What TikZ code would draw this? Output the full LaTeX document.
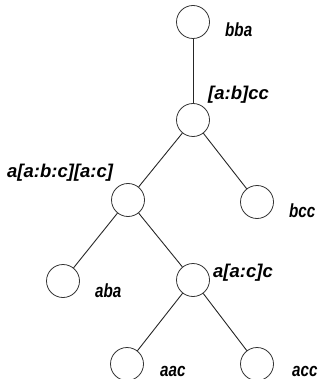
\documentclass[tikz,border=0pt]{standalone}
\usepackage{fontspec}
\setmainfont{Liberation Sans}
\newfontfamily\narrowlab[FakeStretch=0.8]{Liberation Sans}
\begin{document}
\begin{tikzpicture}[x=1pt,y=-1pt,
  vert/.style={circle,draw=black!80,line width=0.8pt,minimum size=33pt,inner sep=0pt},
  lab/.style={font=\fontsize{18.5}{18.5}\selectfont\bfseries\itshape,inner sep=0pt,anchor=base west},
  nlab/.style={font=\narrowlab\fontsize{19}{19}\selectfont\bfseries\itshape,inner sep=0pt,anchor=base west},
  edge/.style={draw=black!85,line width=0.9pt}]
\useasboundingbox (0,0) rectangle (322,379);
\node[vert] (r) at (193,22) {};
\node[vert] (n2) at (193,120) {};
\node[vert] (n3) at (128,200) {};
\node[vert] (bcc) at (257,202) {};
\node[vert] (aba) at (63,281) {};
\node[vert] (n5) at (193,280) {};
\node[vert] (aac) at (127,364) {};
\node[vert] (acc) at (257,364) {};
\node[nlab] (t1) at (225,37) {bba};
\node[lab] (t2) at (208,100) {[a:b]cc};
\node[lab] (t3) at (7,178) {a[a:b:c][a:c]};
\node[nlab] (t4) at (289,217) {bcc};
\node[nlab] (t5) at (95,297) {aba};
\node[lab] (t6) at (213,277) {a[a:c]c};
\node[nlab] (t7) at (160,376) {aac};
\node[nlab] (t8) at (292,376) {acc};
\draw[edge] (r) -- (n2);
\draw[edge] (n2) -- (n3);
\draw[edge] (n2) -- (bcc);
\draw[edge] (n3) -- (aba);
\draw[edge] (n3) -- (n5);
\draw[edge] (n5) -- (aac);
\draw[edge] (n5) -- (acc);
\end{tikzpicture}
\end{document}
